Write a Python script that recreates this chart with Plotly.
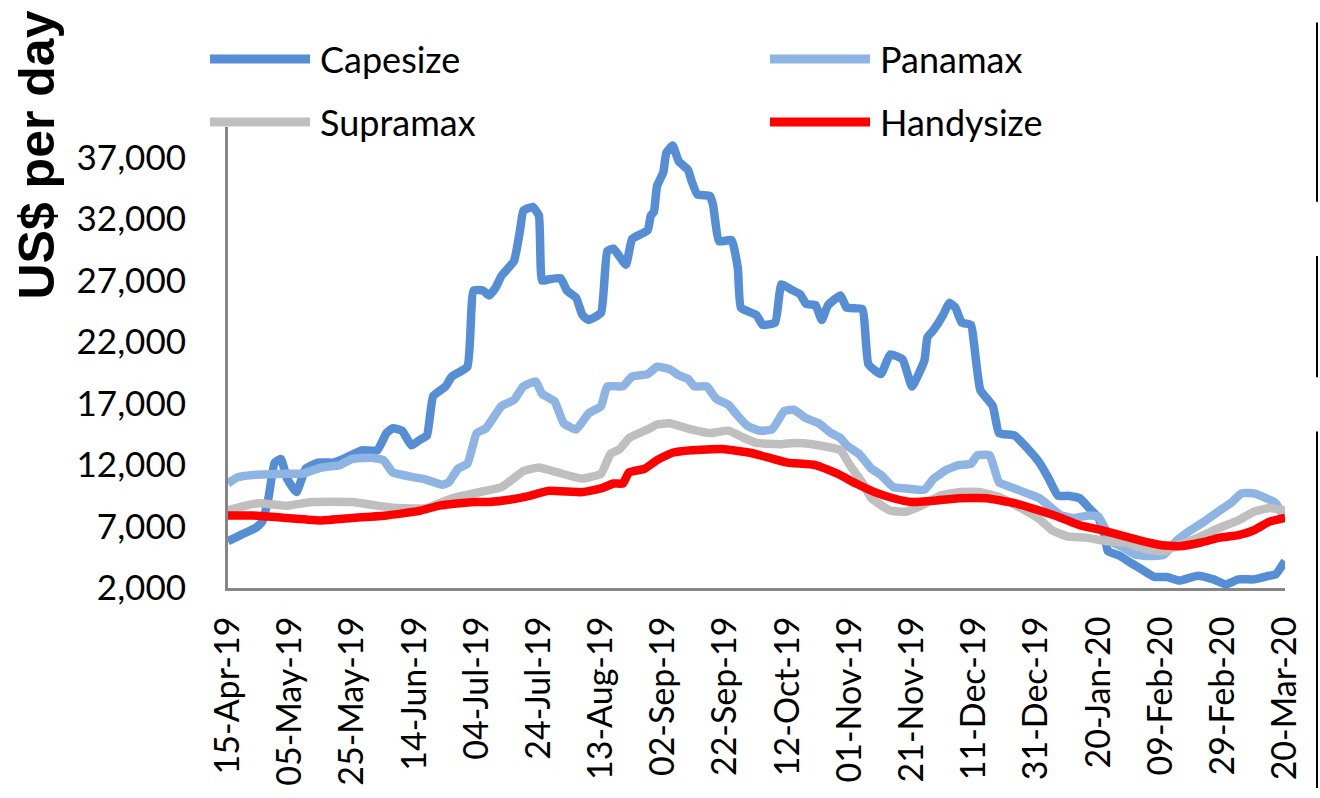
import plotly.graph_objects as go

# ---------------- data ----------------
tick_dates = ["2019-04-15", "2019-05-05", "2019-05-25", "2019-06-14", "2019-07-04",
              "2019-07-24", "2019-08-13", "2019-09-02", "2019-09-22", "2019-10-12",
              "2019-11-01", "2019-11-21", "2019-12-11", "2019-12-31", "2020-01-20",
              "2020-02-09", "2020-02-29", "2020-03-20"]
tick_labels = ["15-Apr-19", "05-May-19", "25-May-19", "14-Jun-19", "04-Jul-19",
               "24-Jul-19", "13-Aug-19", "02-Sep-19", "22-Sep-19", "12-Oct-19",
               "01-Nov-19", "21-Nov-19", "11-Dec-19", "31-Dec-19", "20-Jan-20",
               "09-Feb-20", "29-Feb-20", "20-Mar-20"]
y_ticks = [2000, 7000, 12000, 17000, 22000, 27000, 32000, 37000]

cape_dates = ["2019-04-15", "2019-04-19", "2019-04-24", "2019-04-26", "2019-04-28", "2019-04-30",
              "2019-05-02", "2019-05-04", "2019-05-07", "2019-05-10", "2019-05-14", "2019-05-19",
              "2019-05-23", "2019-05-28", "2019-06-02", "2019-06-05", "2019-06-07", "2019-06-10",
              "2019-06-13", "2019-06-16", "2019-06-18", "2019-06-20", "2019-06-24", "2019-06-26",
              "2019-07-01", "2019-07-03", "2019-07-06", "2019-07-08", "2019-07-10", "2019-07-12",
              "2019-07-16", "2019-07-18", "2019-07-19", "2019-07-22", "2019-07-24", "2019-07-25",
              "2019-07-27", "2019-07-31", "2019-08-02", "2019-08-05", "2019-08-07", "2019-08-09",
              "2019-08-13", "2019-08-15", "2019-08-17", "2019-08-21", "2019-08-23", "2019-08-28",
              "2019-08-29", "2019-08-30", "2019-08-31", "2019-09-02", "2019-09-03", "2019-09-05",
              "2019-09-07", "2019-09-10", "2019-09-11", "2019-09-13", "2019-09-17", "2019-09-18",
              "2019-09-20", "2019-09-24", "2019-09-26", "2019-09-27", "2019-10-02", "2019-10-04",
              "2019-10-08", "2019-10-10", "2019-10-13", "2019-10-16", "2019-10-18", "2019-10-21",
              "2019-10-23", "2019-10-25", "2019-10-29", "2019-10-31", "2019-11-05", "2019-11-07",
              "2019-11-11", "2019-11-14", "2019-11-18", "2019-11-21", "2019-11-25", "2019-11-26",
              "2019-11-28", "2019-12-01", "2019-12-03", "2019-12-05", "2019-12-07", "2019-12-10",
              "2019-12-11", "2019-12-13", "2019-12-17", "2019-12-19", "2019-12-24", "2019-12-28",
              "2020-01-01", "2020-01-04", "2020-01-07", "2020-01-10", "2020-01-14", "2020-01-17",
              "2020-01-20", "2020-01-22", "2020-01-23", "2020-01-27", "2020-01-30", "2020-02-03",
              "2020-02-07", "2020-02-11", "2020-02-15", "2020-02-21", "2020-02-26", "2020-03-01",
              "2020-03-05", "2020-03-10", "2020-03-15", "2020-03-17", "2020-03-20"]
cape_vals = [5800, 6300, 6900, 7400, 9300, 12200,
             12500, 10900, 9800, 11700, 12200, 12200,
             12600, 13200, 13200, 14600, 15000, 14800,
             13600, 14100, 14400, 17600, 18400, 19200,
             20000, 26200, 26200, 25800, 26400, 27400,
             28600, 31200, 32700, 33000, 32300, 27000,
             27100, 27200, 26200, 25600, 24200, 23800,
             24400, 29400, 29600, 28300, 30400, 31100,
             32300, 32600, 34700, 35800, 37400, 38000,
             36700, 36000, 35200, 34000, 33900, 33200,
             30200, 30300, 28000, 24800, 24200, 23400,
             23600, 26700, 26300, 25900, 25100, 25000,
             23800, 25000, 25800, 24800, 24700, 20200,
             19400, 21000, 20600, 18400, 20500, 22400,
             23000, 24200, 25200, 24800, 23600, 23400,
             21800, 18100, 16800, 14600, 14400, 13400,
             12200, 10900, 9500, 9500, 9300, 8500,
             7700, 6300, 5000, 4600, 4100, 3500,
             2900, 2900, 2600, 3000, 2700, 2300,
             2700, 2700, 3000, 3100, 4200]

pana_dates = ["2019-04-15", "2019-04-18", "2019-04-23", "2019-05-04", "2019-05-09", "2019-05-15",
              "2019-05-21", "2019-05-25", "2019-05-31", "2019-06-04", "2019-06-07", "2019-06-14",
              "2019-06-18", "2019-06-23", "2019-06-25", "2019-06-28", "2019-07-01", "2019-07-04",
              "2019-07-07", "2019-07-12", "2019-07-16", "2019-07-19", "2019-07-23", "2019-07-25",
              "2019-07-29", "2019-08-01", "2019-08-05", "2019-08-09", "2019-08-13", "2019-08-15",
              "2019-08-20", "2019-08-23", "2019-08-28", "2019-08-31", "2019-09-04", "2019-09-07",
              "2019-09-10", "2019-09-12", "2019-09-16", "2019-09-19", "2019-09-23", "2019-09-26",
              "2019-09-29", "2019-10-03", "2019-10-07", "2019-10-11", "2019-10-14", "2019-10-18",
              "2019-10-22", "2019-10-26", "2019-10-29", "2019-10-31", "2019-11-04", "2019-11-08",
              "2019-11-11", "2019-11-15", "2019-11-19", "2019-11-25", "2019-11-28", "2019-12-02",
              "2019-12-06", "2019-12-10", "2019-12-12", "2019-12-16", "2019-12-19", "2019-12-24",
              "2019-12-28", "2020-01-01", "2020-01-04", "2020-01-08", "2020-01-12", "2020-01-17",
              "2020-01-20", "2020-01-22", "2020-01-24", "2020-01-28", "2020-02-01", "2020-02-06",
              "2020-02-10", "2020-02-14", "2020-02-18", "2020-02-23", "2020-02-28", "2020-03-03",
              "2020-03-06", "2020-03-10", "2020-03-14", "2020-03-17", "2020-03-20"]
pana_vals = [10500, 11000, 11200, 11300, 11300, 11800,
             12000, 12500, 12600, 12400, 11400, 11000,
             10800, 10400, 10600, 11700, 12100, 14600,
             15000, 16800, 17300, 18400, 18800, 17800,
             17200, 15400, 14900, 16200, 16800, 18400,
             18400, 19200, 19400, 20000, 19800, 19300,
             19000, 18400, 18400, 17400, 16900, 16000,
             15200, 14800, 14900, 16400, 16500, 15800,
             15400, 14600, 14200, 13600, 12900, 11700,
             11200, 10200, 10100, 10000, 10900, 11600,
             12000, 12100, 12800, 12800, 10600, 10100,
             9700, 9300, 8700, 7900, 7700, 7900,
             7800, 6900, 5800, 5300, 4700, 4600,
             4700, 5800, 6600, 7400, 8300, 9000,
             9700, 9700, 9300, 8900, 7600]

supra_dates = ["2019-04-15", "2019-04-19", "2019-04-25", "2019-05-04", "2019-05-12", "2019-05-25",
               "2019-06-02", "2019-06-09", "2019-06-18", "2019-06-26", "2019-07-03", "2019-07-12",
               "2019-07-19", "2019-07-24", "2019-07-30", "2019-08-07", "2019-08-13", "2019-08-16",
               "2019-08-19", "2019-08-22", "2019-08-28", "2019-08-31", "2019-09-04", "2019-09-11",
               "2019-09-17", "2019-09-23", "2019-09-28", "2019-10-02", "2019-10-10", "2019-10-14",
               "2019-10-20", "2019-10-29", "2019-11-01", "2019-11-05", "2019-11-08", "2019-11-14",
               "2019-11-19", "2019-11-24", "2019-11-30", "2019-12-06", "2019-12-13", "2019-12-19",
               "2019-12-26", "2020-01-01", "2020-01-05", "2020-01-10", "2020-01-16", "2020-01-23",
               "2020-01-29", "2020-02-05", "2020-02-10", "2020-02-15", "2020-02-22", "2020-02-28",
               "2020-03-05", "2020-03-10", "2020-03-15", "2020-03-20"]
supra_vals = [8300, 8600, 8900, 8700, 9000, 9000,
              8700, 8500, 8500, 9300, 9700, 10200,
              11500, 11800, 11400, 10900, 11300, 12900,
              13300, 14200, 14900, 15300, 15400, 14900,
              14600, 14800, 14200, 13800, 13700, 13800,
              13700, 13200, 12000, 10600, 9300, 8300,
              8200, 8700, 9500, 9800, 9800, 9400,
              8500, 7600, 6700, 6200, 6100, 5800,
              5700, 5100, 5000, 5500, 6200, 6900,
              7500, 8200, 8500, 8300]

handy_dates = ["2019-04-15", "2019-04-23", "2019-05-04", "2019-05-15", "2019-05-25", "2019-06-05",
               "2019-06-16", "2019-06-22", "2019-07-03", "2019-07-08", "2019-07-15", "2019-07-21",
               "2019-07-27", "2019-08-07", "2019-08-13", "2019-08-17", "2019-08-20", "2019-08-22",
               "2019-08-27", "2019-08-31", "2019-09-05", "2019-09-11", "2019-09-21", "2019-09-30",
               "2019-10-06", "2019-10-12", "2019-10-21", "2019-10-28", "2019-11-03", "2019-11-09",
               "2019-11-15", "2019-11-21", "2019-11-28", "2019-12-06", "2019-12-15", "2019-12-24",
               "2020-01-01", "2020-01-08", "2020-01-14", "2020-01-21", "2020-01-27", "2020-02-02",
               "2020-02-09", "2020-02-15", "2020-02-22", "2020-02-28", "2020-03-05", "2020-03-10",
               "2020-03-15", "2020-03-20"]
handy_vals = [7900, 7900, 7700, 7500, 7700, 7900,
              8300, 8700, 9000, 9000, 9200, 9500,
              9900, 9800, 10100, 10500, 10500, 11400,
              11700, 12400, 13000, 13200, 13300, 13000,
              12600, 12200, 12000, 11300, 10500, 9800,
              9300, 9000, 9100, 9300, 9300, 8900,
              8300, 7700, 7100, 6700, 6300, 5900,
              5500, 5400, 5700, 6100, 6300, 6700,
              7400, 7700]

series_names = ["Capesize", "Panamax", "Supramax", "Handysize"]
series_colors = ["#558ED5", "#8EB4E3", "#BFBFBF", "#FF0000"]

# ---------------- layout geometry ----------------
W, H = 1320, 798
PLOT_LEFT, PLOT_RIGHT, PLOT_TOP, PLOT_BOTTOM = 228, 1285, 127, 595  # page pixels
L, R, T, B = PLOT_LEFT, W - PLOT_RIGHT, PLOT_TOP, H - PLOT_BOTTOM
PW, PH = PLOT_RIGHT - PLOT_LEFT, PLOT_BOTTOM - PLOT_TOP


def px(x):
    return (x - PLOT_LEFT) / PW


def py(y):
    return (PLOT_BOTTOM - y) / PH


FONT = "Lato"

fig = go.Figure()
all_series = [(cape_dates, cape_vals), (pana_dates, pana_vals),
              (supra_dates, supra_vals), (handy_dates, handy_vals)]
for (d, v), name, col in zip(all_series, series_names, series_colors):
    fig.add_trace(go.Scatter(
        x=d, y=v, name=name, mode="lines",
        line=dict(color=col, width=8.5, shape="spline", smoothing=0.4),
        showlegend=False))

# manual legend (two columns, long line samples)
legend_pos = [(210, 58), (770, 58), (210, 122), (770, 122)]
shapes = []
annotations = []
for (lx, ly), name, col in zip(legend_pos, series_names, series_colors):
    shapes.append(dict(type="line", xref="paper", yref="paper",
                       x0=px(lx), x1=px(lx + 100), y0=py(ly), y1=py(ly),
                       line=dict(color=col, width=9)))
    annotations.append(dict(text=name, xref="paper", yref="paper",
                            x=px(lx + 108), y=py(ly), xanchor="left", yanchor="middle",
                            showarrow=False, font=dict(family=FONT, size=36, color="#000000")))

# y-axis title
annotations.append(dict(text="<b>US$ per day</b>", xref="paper", yref="paper",
                        x=px(37), y=py(156), xanchor="center", yanchor="middle",
                        textangle=-90, showarrow=False,
                        font=dict(family="Liberation Sans", size=50, color="#000000")))

# cropped frame edge on the right of the source image
for y0, y1 in [(21, 203), (258, 381), (436, 798)]:
    shapes.append(dict(type="line", xref="paper", yref="paper", layer="above",
                       x0=px(1317), x1=px(1317), y0=py(y0), y1=py(y1),
                       line=dict(color="#000000", width=2)))

fig.update_layout(
    width=W, height=H,
    margin=dict(l=L, r=R, t=T, b=B, pad=0),
    paper_bgcolor="white", plot_bgcolor="white",
    font=dict(family=FONT, size=35, color="#000000"),
    shapes=shapes, annotations=annotations,
    showlegend=False,
)
fig.update_xaxes(
    type="date", range=["2019-04-15", "2020-03-20"],
    tickvals=tick_dates, ticktext=tick_labels, tickangle=-90,
    showgrid=False, zeroline=False, showline=True, linecolor="#868686", linewidth=3,
    ticks="", ticklabelstandoff=12, tickfont=dict(family=FONT, size=34),
)
fig.update_yaxes(
    range=[2000, 39500], tickvals=y_ticks, tickformat=",",
    showgrid=False, zeroline=False, showline=True, linecolor="#868686", linewidth=3,
    ticks="", ticklabelstandoff=32, tickfont=dict(family=FONT, size=35),
)

# remove the default page margin so the figure fills the 1320x798 window exactly
fig.write_html("out.html",
               config={"displayModeBar": False},
               post_script="document.body.style.margin='0';document.body.style.overflow='hidden';")
